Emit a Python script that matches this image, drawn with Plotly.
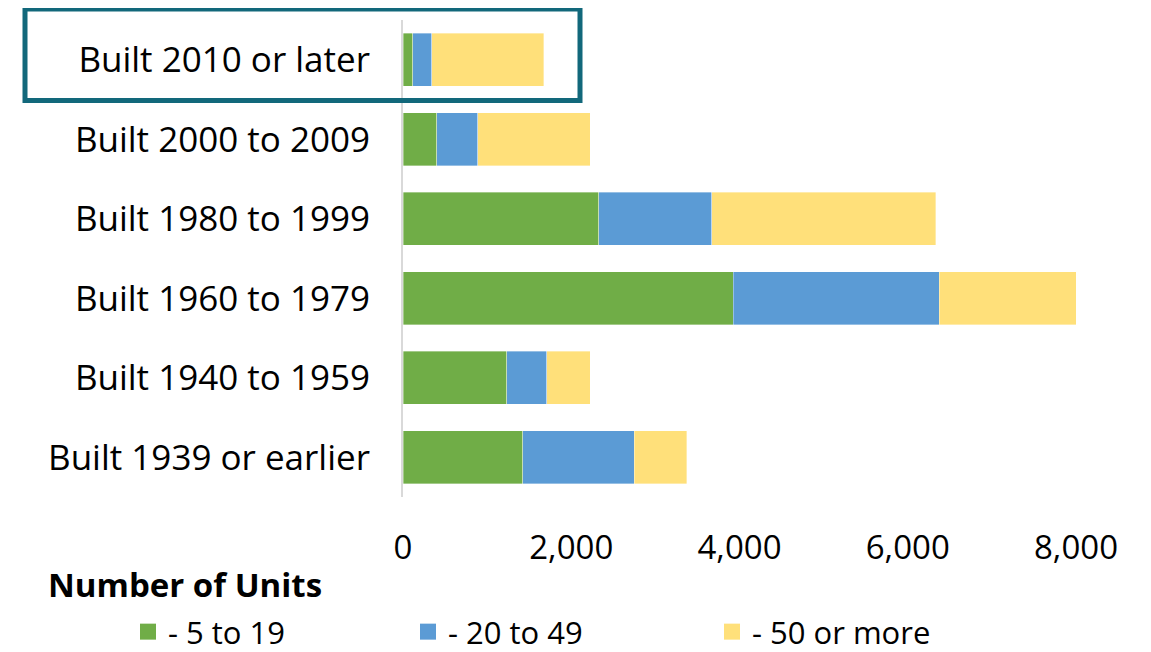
import plotly.graph_objects as go

categories = ["Built 2010 or later", "Built 2000 to 2009", "Built 1980 to 1999",
              "Built 1960 to 1979", "Built 1940 to 1959", "Built 1939 or earlier"]
units_5_19 = [117, 402, 2329, 3923, 1235, 1425]
units_20_49 = [222, 484, 1341, 2451, 472, 1325]
units_50_more = [1332, 1341, 2665, 1626, 520, 623]
series_names = ["- 5 to 19", "- 20 to 49", "- 50 or more"]
colors = ["#70AD47", "#5B9BD5", "#FFE07A"]
x_ticks = [0, 2000, 4000, 6000, 8000]
x_ticklabels = ["0", "2,000", "4,000", "6,000", "8,000"]

FONT = "Open Sans"
OFF = 8  # page body margin offset of the figure in the browser window
W, H = 1151 - OFF, 652 - OFF  # figure fits exactly inside the window
# target pixel positions in the window -> figure coordinates
plot_left, plot_right, plot_top, plot_bottom = 403 - OFF, 1076 - OFF, 20 - OFF, 497 - OFF
pw = plot_right - plot_left
ph = plot_bottom - plot_top

def px(xw):
    return (xw - OFF - plot_left) / pw

def py(yw):
    return (plot_bottom - (yw - OFF)) / ph

fig = go.Figure()
legends = ["legend", "legend2", "legend3"]
series = [units_5_19, units_20_49, units_50_more]
for name, vals, col, lg in zip(series_names, series, colors, legends):
    fig.add_trace(go.Bar(
        y=categories, x=vals, name=name, orientation="h",
        marker=dict(color=col, line=dict(color="rgba(255,255,255,0.6)", width=0.6)),
        legendgroup=name, showlegend=False,
    ))
    # legend key (larger square than the default bar key)
    fig.add_trace(go.Scatter(
        x=[None], y=[None], mode="markers", name=name,
        marker=dict(symbol="square", size=16, color=col),
        legendgroup=name, legend=lg, showlegend=True,
    ))

legend_common = dict(orientation="h", yanchor="middle", xanchor="left",
                     xref="container", yref="container", itemsizing="trace",
                     font=dict(family=FONT, size=31, color="black"),
                     bgcolor="rgba(0,0,0,0)", borderwidth=0)
leg_x = [128, 408, 712]
leg_y = 1 - (632 - OFF) / H

fig.update_layout(
    width=W, height=H,
    margin=dict(l=plot_left, r=W - plot_right, t=plot_top, b=H - plot_bottom, pad=0),
    barmode="stack", bargap=0.33,
    plot_bgcolor="white", paper_bgcolor="white",
    font=dict(family=FONT, size=33, color="black"),
    xaxis=dict(range=[0, 8000], tickvals=x_ticks, ticktext=x_ticklabels,
               showgrid=False, zeroline=False, showline=False, automargin=False,
               ticks="", ticklabelstandoff=28,
               tickfont=dict(family=FONT, size=33, color="black")),
    yaxis=dict(categoryorder="array", categoryarray=categories, autorange="reversed",
               showgrid=False, zeroline=False, showline=True, linecolor="#D9D9D9", linewidth=2,
               ticks="", ticklabelstandoff=24, automargin=False,
               tickfont=dict(family=FONT, size=35, color="black")),
    legend=dict(x=(leg_x[0] - OFF) / W, y=leg_y, **legend_common),
    legend2=dict(x=(leg_x[1] - OFF) / W, y=leg_y, **legend_common),
    legend3=dict(x=(leg_x[2] - OFF) / W, y=leg_y, **legend_common),
    showlegend=True,
)

fig.add_annotation(text="<b>Number of Units</b>", xref="paper", yref="paper",
                   x=px(46), y=py(584), xanchor="left", yanchor="middle", showarrow=False,
                   font=dict(family=FONT, size=33, color="black"))

fig.add_shape(type="rect", xref="paper", yref="paper",
              x0=px(25), x1=px(580), y0=py(9), y1=py(100.5),
              line=dict(color="#12687B", width=5), fillcolor="rgba(0,0,0,0)", layer="above")

fig.write_html("out.html")
